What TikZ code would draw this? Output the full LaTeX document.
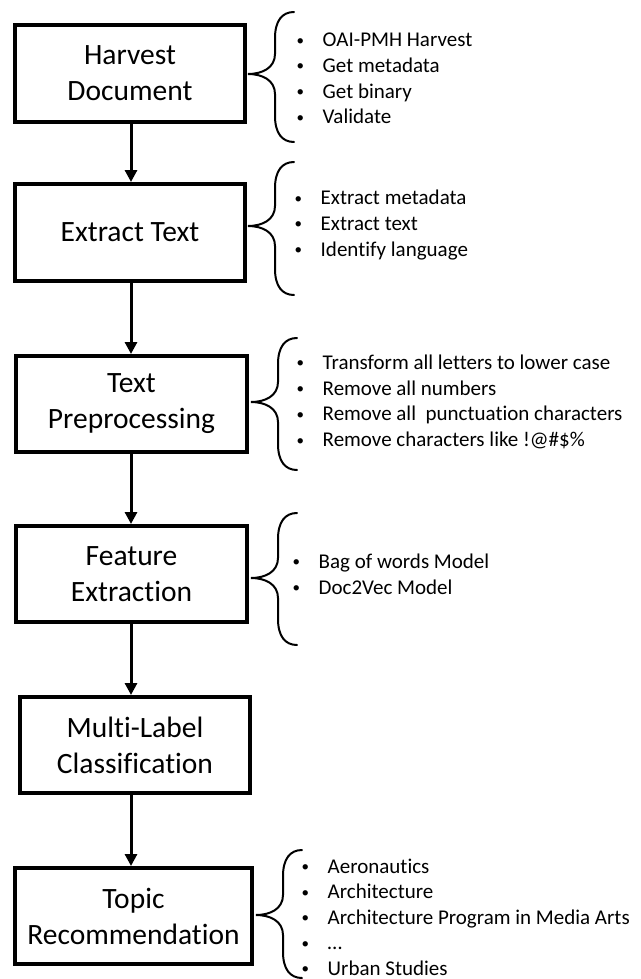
\documentclass[tikz,border=0pt]{standalone}
\usepackage{fontspec}
\setmainfont{Carlito}[Ligatures=NoCommon]
\usetikzlibrary{arrows.meta}
\newcommand{\bul}{\makebox[26pt][l]{\raisebox{1.6pt}{\fontsize{15}{15}\selectfont •}}}
\newcommand{\mybrace}[4]{%
  \draw[bracestyle] (#1+46,#3) .. controls (#1+34,#3) and (#1+27,#3+9) .. (#1+27,#3+26)
    -- (#1+27,#2-20) .. controls (#1+27,#2-6) and (#1+14,#2) .. (#1,#2)
    .. controls (#1+14,#2) and (#1+27,#2+6) .. (#1+27,#2+20)
    -- (#1+27,#4-26) .. controls (#1+27,#4-9) and (#1+34,#4) .. (#1+46,#4);}
\begin{document}
\begin{tikzpicture}[x=1pt,y=-1pt,
  stepbox/.style={draw=black,line width=4pt,fill=white,inner sep=0pt,align=center,font=\fontsize{29.5}{36}\selectfont},
  flow/.style={line width=3pt,-{Triangle[length=12pt,width=12pt]}},
  bracestyle/.style={line width=2pt,line cap=round},
  items/.style={anchor=west,align=left,inner sep=0pt,font=\fontsize{21}{25.7}\selectfont}]
\useasboundingbox (0,0) rectangle (640,979);
\fill[white] (0,0) rectangle (640,979);
\node[stepbox,minimum width=230pt,minimum height=97pt] (b1) at (130,73.5) {Harvest\\Document};
\node[stepbox,minimum width=230pt,minimum height=97pt] (b2) at (130,232.5) {Extract Text};
\node[stepbox,minimum width=231pt,minimum height=96pt] (b3) at (131.5,404) {Text\\Preprocessing};
\node[stepbox,minimum width=231pt,minimum height=96pt] (b4) at (131.5,574) {Feature\\Extraction};
\node[stepbox,minimum width=230pt,minimum height=96pt] (b5) at (135,745) {Multi-Label\\Classification};
\node[stepbox,minimum width=237pt,minimum height=96pt] (b6) at (133.5,916) {Topic\\Recommendation};
\coordinate (ax) at (131,0);
\draw[flow] (b1.south -| ax) -- (b2.north -| ax);
\draw[flow] (b2.south -| ax) -- (b3.north -| ax);
\draw[flow] (b3.south -| ax) -- (b4.north -| ax);
\draw[flow] (b4.south -| ax) -- (b5.north -| ax);
\draw[flow] (b5.south -| ax) -- (b6.north -| ax);
% braces: tip x, tip y, top y, bottom y
\mybrace{248}{74}{12}{142}
\mybrace{248}{226}{162}{295}
\mybrace{251}{402}{338}{470}
\mybrace{251}{578}{513}{645}
\mybrace{256}{915}{850}{978}
\node[items] (t1) at (296.5,78.5) {\bul OAI-PMH Harvest\\\bul Get metadata\\\bul Get binary\\\bul Validate};
\node[items] (t2) at (294.5,225) {\bul Extract metadata\\\bul Extract text\\\bul Identify language};
\node[items] (t3) at (296.5,402) {\bul Transform all letters to lower case\\\bul Remove all numbers\\\bul Remove all\ \ punctuation characters\\\bul Remove characters like !@\#\$\%};
\node[items] (t4) at (292.5,574) {\bul Bag of words Model\\\bul Doc2Vec Model};
\node[items,font=\fontsize{21}{25.5}\selectfont] (t6) at (301.5,917) {\bul Aeronautics\\\bul Architecture\\\bul Architecture Program in Media Arts\\\bul …\\\bul Urban Studies};
\end{tikzpicture}
\end{document}
